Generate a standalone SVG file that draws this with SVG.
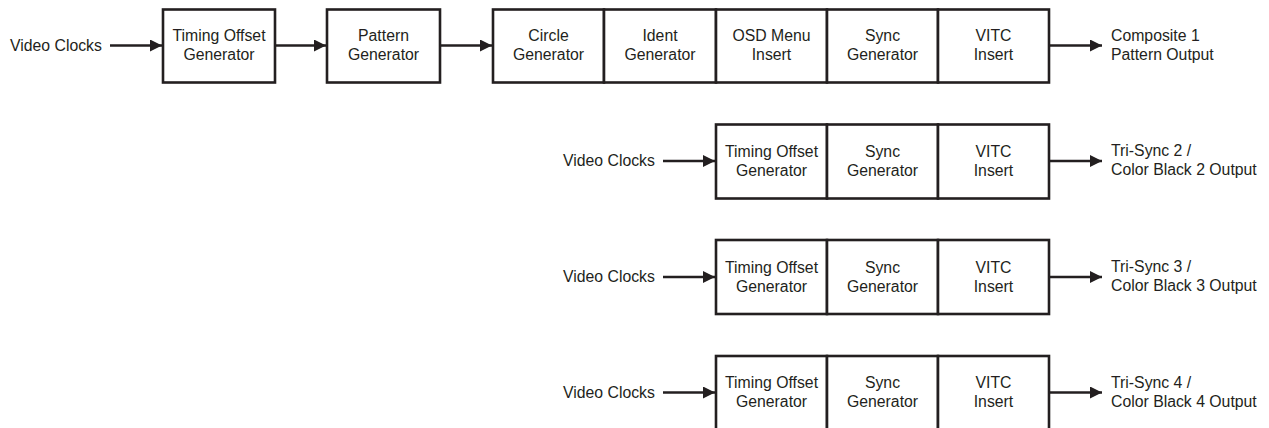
<svg xmlns="http://www.w3.org/2000/svg" width="1269" height="428" viewBox="0 0 1269 428">
<style>
text{font-family:"Liberation Sans",Arial,sans-serif;font-size:15.8px;fill:#231f20}
.c{text-anchor:middle}
.box{fill:#fff;stroke:#231f20;stroke-width:2.6}
.ln{stroke:#231f20;stroke-width:2.6;fill:none}
</style>
<defs>
<marker id="ah" markerUnits="userSpaceOnUse" markerWidth="13" markerHeight="13" refX="12" refY="6" orient="auto">
<path d="M0,0 L12,6 L0,12 Z" fill="#231f20"/>
</marker>
</defs>
<rect width="1269" height="428" fill="#fff"/>
<g id="connectors">
<line class="ln" x1="110" y1="45.5" x2="162" y2="45.5" marker-end="url(#ah)"/>
<line class="ln" x1="275" y1="45.5" x2="326" y2="45.5" marker-end="url(#ah)"/>
<line class="ln" x1="440" y1="45.5" x2="492" y2="45.5" marker-end="url(#ah)"/>
<line class="ln" x1="1049" y1="45.5" x2="1102" y2="45.5" marker-end="url(#ah)"/>
<line class="ln" x1="663" y1="161" x2="715" y2="161" marker-end="url(#ah)"/>
<line class="ln" x1="1049" y1="161" x2="1102" y2="161" marker-end="url(#ah)"/>
<line class="ln" x1="663" y1="277" x2="715" y2="277" marker-end="url(#ah)"/>
<line class="ln" x1="1049" y1="277" x2="1102" y2="277" marker-end="url(#ah)"/>
<line class="ln" x1="663" y1="392.5" x2="715" y2="392.5" marker-end="url(#ah)"/>
<line class="ln" x1="1049" y1="392.5" x2="1102" y2="392.5" marker-end="url(#ah)"/>
</g>
<g id="in1"><text x="10" y="50.5">Video Clocks</text></g>
<g id="tog1"><rect class="box" x="163" y="9.5" width="112" height="73"/><text class="c" x="219" y="41">Timing Offset</text><text class="c" x="219" y="60">Generator</text></g>
<g id="pat1"><rect class="box" x="327" y="9.5" width="113" height="73"/><text class="c" x="383.5" y="41">Pattern</text><text class="c" x="383.5" y="60">Generator</text></g>
<g id="circ1"><rect class="box" x="493" y="9.5" width="111" height="73"/><text class="c" x="548.5" y="41">Circle</text><text class="c" x="548.5" y="60">Generator</text></g>
<g id="ident1"><rect class="box" x="604" y="9.5" width="112" height="73"/><text class="c" x="660" y="41">Ident</text><text class="c" x="660" y="60">Generator</text></g>
<g id="osd1"><rect class="box" x="716" y="9.5" width="111" height="73"/><text class="c" x="771.5" y="41">OSD Menu</text><text class="c" x="771.5" y="60">Insert</text></g>
<g id="sync1"><rect class="box" x="827" y="9.5" width="111" height="73"/><text class="c" x="882.5" y="41">Sync</text><text class="c" x="882.5" y="60">Generator</text></g>
<g id="vitc1"><rect class="box" x="938" y="9.5" width="111" height="73"/><text class="c" x="993.5" y="41">VITC</text><text class="c" x="993.5" y="60">Insert</text></g>
<g id="out1"><text x="1111" y="41">Composite 1</text><text x="1111" y="60">Pattern Output</text></g>

<g id="in2"><text x="563" y="166">Video Clocks</text></g>
<g id="tog2"><rect class="box" x="716" y="124.5" width="111" height="74"/><text class="c" x="771.5" y="156.5">Timing Offset</text><text class="c" x="771.5" y="175.5">Generator</text></g>
<g id="sync2"><rect class="box" x="827" y="124.5" width="111" height="74"/><text class="c" x="882.5" y="156.5">Sync</text><text class="c" x="882.5" y="175.5">Generator</text></g>
<g id="vitc2"><rect class="box" x="938" y="124.5" width="111" height="74"/><text class="c" x="993.5" y="156.5">VITC</text><text class="c" x="993.5" y="175.5">Insert</text></g>
<g id="out2"><text x="1111" y="156">Tri-Sync 2 /</text><text x="1111" y="175">Color Black 2 Output</text></g>

<g id="in3"><text x="563" y="282">Video Clocks</text></g>
<g id="tog3"><rect class="box" x="716" y="240" width="111" height="74"/><text class="c" x="771.5" y="272.5">Timing Offset</text><text class="c" x="771.5" y="291.5">Generator</text></g>
<g id="sync3"><rect class="box" x="827" y="240" width="111" height="74"/><text class="c" x="882.5" y="272.5">Sync</text><text class="c" x="882.5" y="291.5">Generator</text></g>
<g id="vitc3"><rect class="box" x="938" y="240" width="111" height="74"/><text class="c" x="993.5" y="272.5">VITC</text><text class="c" x="993.5" y="291.5">Insert</text></g>
<g id="out3"><text x="1111" y="272">Tri-Sync 3 /</text><text x="1111" y="291">Color Black 3 Output</text></g>

<g id="in4"><text x="563" y="397.5">Video Clocks</text></g>
<g id="tog4"><rect class="box" x="716" y="356" width="111" height="74"/><text class="c" x="771.5" y="388">Timing Offset</text><text class="c" x="771.5" y="407">Generator</text></g>
<g id="sync4"><rect class="box" x="827" y="356" width="111" height="74"/><text class="c" x="882.5" y="388">Sync</text><text class="c" x="882.5" y="407">Generator</text></g>
<g id="vitc4"><rect class="box" x="938" y="356" width="111" height="74"/><text class="c" x="993.5" y="388">VITC</text><text class="c" x="993.5" y="407">Insert</text></g>
<g id="out4"><text x="1111" y="387.5">Tri-Sync 4 /</text><text x="1111" y="406.5">Color Black 4 Output</text></g>
</svg>
